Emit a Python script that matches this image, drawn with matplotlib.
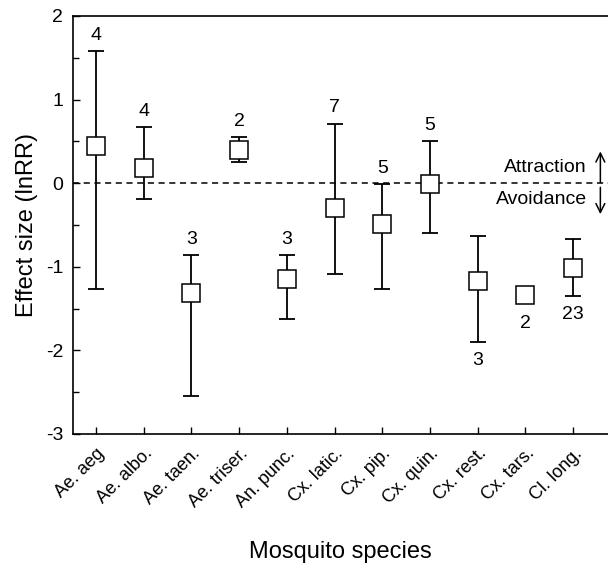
import matplotlib.pyplot as plt
import numpy as np

plt.rcParams['font.family'] = ['Liberation Sans', 'DejaVu Sans']
plt.rcParams['axes.unicode_minus'] = False

species = ['Ae. aeg', 'Ae. albo.', 'Ae. taen.', 'Ae. triser.', 'An. punc.',
           'Cx. latic.', 'Cx. pip.', 'Cx. quin.', 'Cx. rest.', 'Cx. tars.', 'Cl. long.']
effect = [0.44, 0.18, -1.31, 0.40, -1.15, -0.30, -0.49, -0.01, -1.17, -1.34, -1.01]
upper = [1.58, 0.67, -0.86, 0.55, -0.86, 0.71, -0.01, 0.50, -0.63, -1.34, -0.67]
lower = [-1.27, -0.19, -2.54, 0.25, -1.63, -1.09, -1.26, -0.59, -1.90, -1.34, -1.35]
n_studies = [4, 4, 3, 2, 3, 7, 5, 5, 3, 2, 23]
label_below = [False] * 8 + [True, True, True]

x = np.arange(len(species))
effect = np.array(effect)
err = [effect - np.array(lower), np.array(upper) - effect]

fig = plt.figure(figsize=(6.08, 5.67), dpi=100)
ax = fig.add_axes([73 / 608, 133 / 567, 535 / 608, 418 / 567])

ax.axhline(0, color='black', linestyle=(0, (4, 3)), linewidth=1.1, zorder=1)
ax.errorbar(x, effect, yerr=err, fmt='none', ecolor='black', elinewidth=1.3,
            capsize=6, capthick=1.3, zorder=2)
ax.plot(x, effect, 's', markersize=13.5, markerfacecolor='white',
        markeredgecolor='black', markeredgewidth=1.1, linestyle='none', zorder=3)

# sample sizes above or below each bar
for xi, n, up, lo, below in zip(x, n_studies, upper, lower, label_below):
    if below:
        base = min(lo, effect[xi] - 0.12)
        ax.text(xi, base - 0.12, str(n), ha='center', va='top', fontsize=14)
    else:
        base = max(up, effect[xi] + 0.12)
        ax.text(xi, base + 0.09, str(n), ha='center', va='bottom', fontsize=14)

ax.text(10.29, 0.19, 'Attraction', ha='right', va='center', fontsize=14)
ax.text(10.29, -0.19, 'Avoidance', ha='right', va='center', fontsize=14)
arrow = dict(arrowstyle='->', color='black', lw=1.1, shrinkA=0, shrinkB=0,
             mutation_scale=16)
ax.annotate('', xy=(10.57, 0.38), xytext=(10.57, 0.01), arrowprops=arrow)
ax.annotate('', xy=(10.57, -0.37), xytext=(10.57, -0.05), arrowprops=arrow)

ax.set_xlim(-0.48, 10.73)
ax.set_ylim(-3, 2)
ax.set_xticks(x)
ax.set_xticklabels(species, rotation=45, ha='right', rotation_mode='anchor')
ax.set_yticks([-3, -2, -1, 0, 1, 2])
ax.set_yticks(np.arange(-2.5, 2, 1.0), minor=True)
ax.tick_params(axis='both', direction='in', length=5, width=1)
ax.tick_params(axis='y', labelsize=14, pad=7)
ax.tick_params(axis='x', labelsize=13, pad=8)
ax.tick_params(axis='y', which='minor', direction='in', length=4, width=1)
ax.spines['right'].set_visible(False)
for s in ['left', 'top', 'bottom']:
    ax.spines[s].set_linewidth(1.2)

ax.set_xlabel('Mosquito species', fontsize=17, labelpad=22)
ax.set_ylabel('Effect size (lnRR)', fontsize=17, labelpad=6)

fig.savefig('out.png', dpi=100)
